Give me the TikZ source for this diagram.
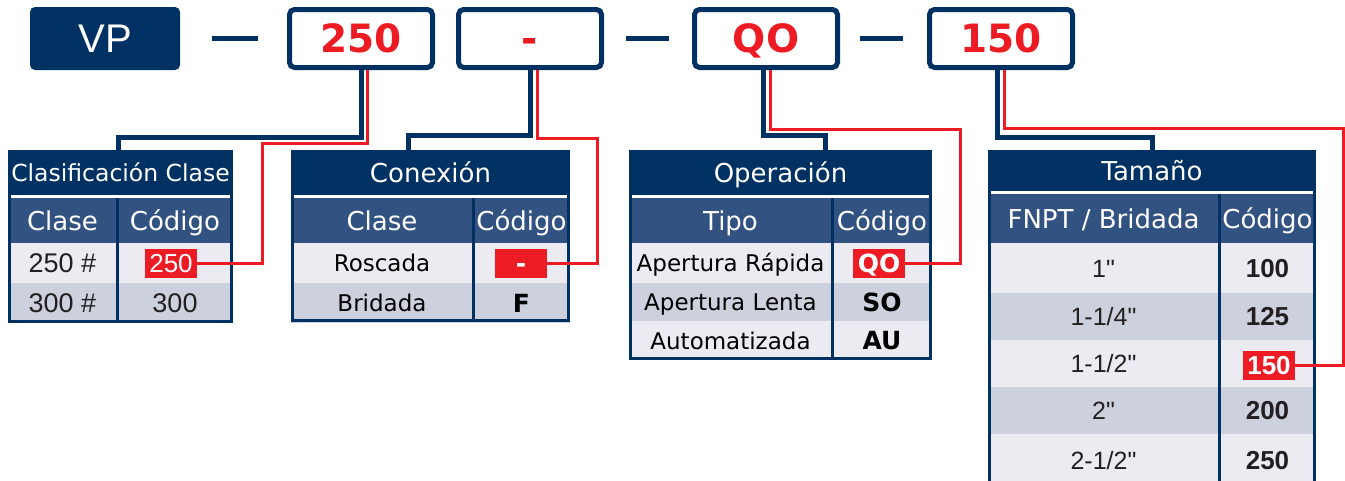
\documentclass[tikz,border=0pt]{standalone}
\usepackage{fontspec}
\setmainfont{DejaVu Sans}
\newfontfamily\arialfont{Liberation Sans}
\definecolor{navy}{RGB}{0,49,99}
\definecolor{headblue}{RGB}{50,83,129}
\definecolor{rowlight}{RGB}{236,235,242}
\definecolor{rowdark}{RGB}{205,209,222}
\definecolor{codered}{RGB}{237,28,36}
\definecolor{textgray}{RGB}{35,31,32}
\tikzset{
  navyline/.style={draw=navy, line width=5pt},
  redline/.style={draw=codered, line width=3pt},
  hyphenbar/.style={draw=navy, line width=5pt},
  tableframe/.style={draw=navy, line width=3pt},
  codebox/.style={draw=navy, line width=5pt, rounded corners=5pt, fill=white,
    minimum width=143pt, minimum height=58pt, inner sep=0pt, text=codered,
    font=\bfseries\fontsize{39}{39}\selectfont, text height=28pt, text depth=0pt},
  cell/.style={anchor=north west, inner sep=0pt, outer sep=0pt, minimum height=40pt},
  titleband/.style={cell, fill=navy, text=white, minimum height=45pt,
    font=\fontsize{26}{26}\selectfont, text height=19pt, text depth=0pt},
  headcell/.style={cell, fill=headblue, text=white, minimum height=45pt,
    font=\fontsize{26}{26}\selectfont, text height=19pt, text depth=0pt},
  lightcell/.style={cell, fill=rowlight, font=\fontsize{23}{23}\selectfont,
    text height=17pt, text depth=0pt},
  darkcell/.style={cell, fill=rowdark, font=\fontsize{23}{23}\selectfont,
    text height=17pt, text depth=0pt},
  arialcell/.style={font=\arialfont\fontsize{25}{25}\selectfont, text=textgray, text height=18pt},
  boldcell/.style={font=\bfseries\fontsize{25}{25}\selectfont, text height=18pt},
  arialbold/.style={font=\arialfont\bfseries\fontsize{26}{26}\selectfont, text=textgray, text height=18.5pt},
  pick/.style={fill=codered, text=white, inner sep=0pt, minimum width=52pt,
    minimum height=29pt, text height=17pt, text depth=0pt}
}
\begin{document}
\begin{tikzpicture}[x=1pt,y=-1pt]
  \useasboundingbox (0,0) rectangle (1345,480);

  % code line
  \node[fill=navy, rounded corners=5pt, minimum width=150pt, minimum height=63pt,
    text=white, font=\arialfont\fontsize{40}{40}\selectfont] (vp) at (105,38.5) {VP};
  \node[codebox] (b250) at (361,38.5) {250};
  \node[codebox] (bdash) at (530,38.5) {-};
  \node[codebox] (bqo) at (766,38.5) {QO};
  \node[codebox] (b150) at (1001,38.5) {150};
  \draw[hyphenbar] ([xshift=32pt]vp.east) -- ([xshift=-29.5pt]b250.west);
  \draw[hyphenbar] ([xshift=21.5pt]bdash.east) -- ([xshift=-23.5pt]bqo.west);
  \draw[hyphenbar] ([xshift=19.5pt]bqo.east) -- ([xshift=-24.5pt]b150.west);

  % clasificacion clase
  \node[titleband, minimum width=225pt, font=\fontsize{23.5}{23.5}\selectfont,
    text height=17pt] (tit1) at (8,150) {Clasificación Clase};
  \node[headcell, minimum width=109pt] (hd1a) at (8,198) {Clase};
  \node[headcell, minimum width=116pt] (hd1b) at (117,198) {Código};
  \node[lightcell, arialcell, font=\arialfont\fontsize{27}{27}\selectfont,
    minimum width=109pt] (r1a) at (8,243) {250 \#};
  \node[lightcell, minimum width=116pt] (r1b) at (117,243) {};
  \node[darkcell, arialcell, font=\arialfont\fontsize{27}{27}\selectfont,
    minimum width=109pt] (r2a) at (8,283) {300 \#};
  \node[darkcell, arialcell, font=\arialfont\fontsize{27}{27}\selectfont,
    minimum width=116pt] (r2b) at (117,283) {300};
  \draw[tableframe] (117,198) -- (117,322);
  \draw[tableframe] (9.5,151.5) rectangle (231.5,321.5);
  \node[pick, font=\arialfont\fontsize{26}{26}\selectfont, text height=18pt] (p1) at (171,263.5) {250};

  % conexion
  \node[titleband, minimum width=279pt] (tit2) at (291,150) {Conexión};
  \node[headcell, minimum width=182pt] (hd2a) at (291,198) {Clase};
  \node[headcell, minimum width=97pt] (hd2b) at (473,198) {Código};
  \node[lightcell, minimum width=182pt] (r3a) at (291,243) {Roscada};
  \node[lightcell, minimum width=97pt] (r3b) at (473,243) {};
  \node[darkcell, minimum width=182pt] (r4a) at (291,283) {Bridada};
  \node[darkcell, boldcell, minimum width=97pt] (r4b) at (473,283) {F};
  \draw[tableframe] (473,198) -- (473,321);
  \draw[tableframe] (292.5,151.5) rectangle (568.5,320.5);
  \node[pick, font=\bfseries\fontsize{25}{25}\selectfont] (p2) at (521,263.5) {-};

  % operacion
  \node[titleband, minimum width=303pt] (tit3) at (629,150) {Operación};
  \node[headcell, minimum width=203pt] (hd3a) at (629,198) {Tipo};
  \node[headcell, minimum width=100pt] (hd3b) at (832,198) {Código};
  \node[lightcell, minimum width=203pt] (r5a) at (629,243) {Apertura Rápida};
  \node[lightcell, minimum width=100pt] (r5b) at (832,243) {};
  \node[darkcell, minimum width=203pt, minimum height=38pt] (r6a) at (629,283) {Apertura Lenta};
  \node[darkcell, boldcell, minimum width=100pt, minimum height=38pt] (r6b) at (832,283) {SO};
  \node[lightcell, minimum width=203pt, minimum height=39pt] (r7a) at (629,321) {Automatizada};
  \node[lightcell, boldcell, minimum width=100pt, minimum height=39pt] (r7b) at (832,321) {AU};
  \draw[tableframe] (832,198) -- (832,359);
  \draw[tableframe] (630.5,151.5) rectangle (930.5,358.5);
  \node[pick, font=\bfseries\fontsize{25}{25}\selectfont, text height=18pt] (p3) at (879,263.5) {QO};

  % tamano
  \node[titleband, minimum width=328pt, minimum height=41pt] (tit4) at (988,150) {Tamaño};
  \node[headcell, minimum width=231pt, minimum height=49pt] (hd4a) at (988,194) {FNPT / Bridada};
  \node[headcell, minimum width=97pt, minimum height=49pt] (hd4b) at (1219,194) {Código};
  \node[lightcell, arialcell, minimum width=231pt, minimum height=50pt] (r8a) at (988,243) {1"};
  \node[lightcell, arialbold, minimum width=97pt, minimum height=50pt] (r8b) at (1219,243) {100};
  \node[darkcell, arialcell, minimum width=231pt, minimum height=47pt] (r9a) at (988,293) {1-1/4"};
  \node[darkcell, arialbold, minimum width=97pt, minimum height=47pt] (r9b) at (1219,293) {125};
  \node[lightcell, arialcell, minimum width=231pt, minimum height=47pt] (r10a) at (988,340) {1-1/2"};
  \node[lightcell, minimum width=97pt, minimum height=47pt] (r10b) at (1219,340) {};
  \node[darkcell, arialcell, minimum width=231pt, minimum height=47pt] (r11a) at (988,387) {2"};
  \node[darkcell, arialbold, minimum width=97pt, minimum height=47pt] (r11b) at (1219,387) {200};
  \node[lightcell, arialcell, minimum width=231pt, minimum height=52pt] (r12a) at (988,434) {2-1/2"};
  \node[lightcell, arialbold, minimum width=97pt, minimum height=52pt] (r12b) at (1219,434) {250};
  \draw[tableframe] (1219,194) -- (1219,490);
  \draw[tableframe] (989.5,151.5) rectangle (1314.5,495);
  \node[pick, font=\arialfont\bfseries\fontsize{26}{26}\selectfont, text height=18.5pt] (p4) at (1269,365) {150};

  % connectors
  \draw[navyline] (b250.south) -- ++(0,67) -| ([xshift=-2pt]tit1.north);
  \draw[redline] ([xshift=6pt]b250.south) -- ++(0,73) -| ([xshift=65pt]p1.east) -- (p1.east);
  \draw[navyline] (bdash.south) -- ++(0,65) -| ([xshift=-22pt]tit2.north);
  \draw[redline] ([xshift=7pt]bdash.south) -- ++(0,68) -| ([xshift=50pt]p2.east) -- (p2.east);
  \draw[navyline] ([xshift=-3pt]bqo.south) -- ++(0,65) -| ([xshift=45pt]tit3.north);
  \draw[redline] ([xshift=4pt]bqo.south) -- ++(0,59) -| ([xshift=55pt]p3.east) -- (p3.east);
  \draw[navyline] ([xshift=-4pt]b150.south) -- ++(0,67) -| (tit4.north);
  \draw[redline] ([xshift=3pt]b150.south) -- ++(0,58) -| ([xshift=48pt]p4.east) -- (p4.east);
\end{tikzpicture}
\end{document}
